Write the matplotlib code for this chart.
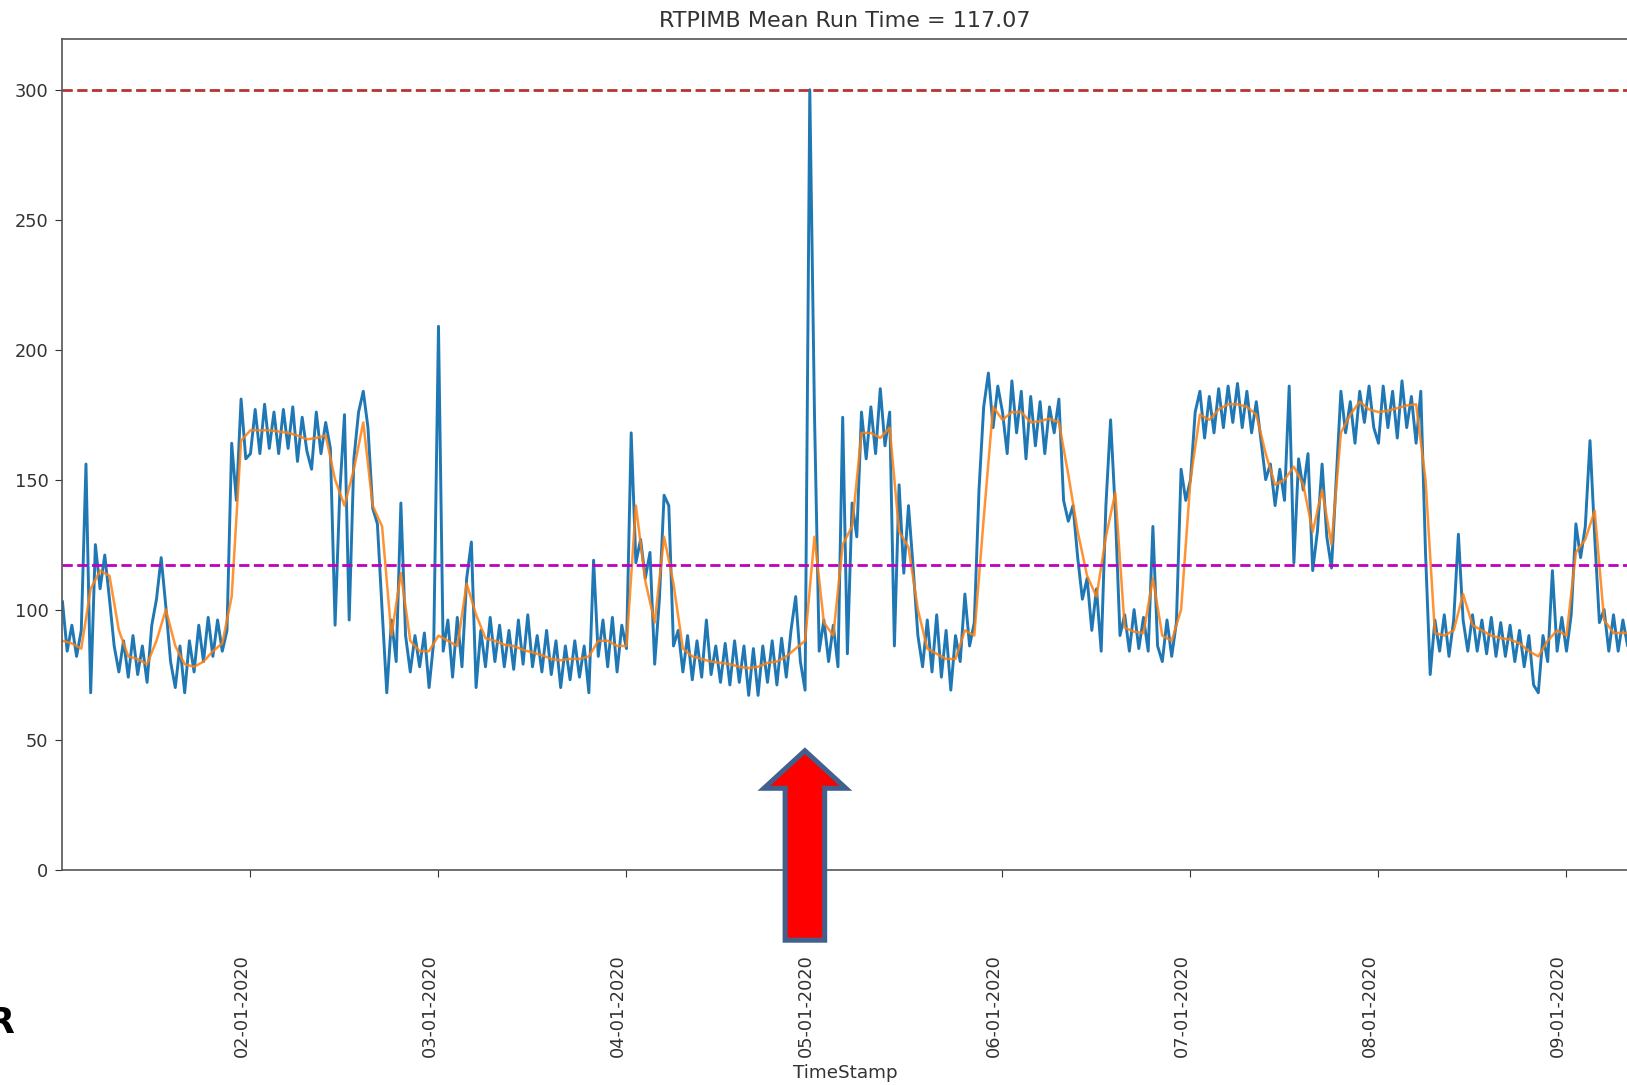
import numpy as np
import matplotlib
matplotlib.use('Agg')
import matplotlib.pyplot as plt
from matplotlib.patches import FancyArrow

plt.rcParams['font.family'] = ['DejaVu Sans']

# run time samples, one every 0.025 month, per month
jan_vals = [103, 84, 94, 82, 92, 156, 68, 125, 108, 121, 104, 86, 76, 88, 74, 90, 75, 86, 72, 94,
            104, 120, 101, 80, 70, 86, 68, 88, 76, 94, 80, 97, 82, 96, 84, 92, 164, 142, 181, 158]
feb_vals = [160, 177, 160, 179, 162, 176, 160, 177, 162, 178, 157, 174, 161, 154, 176, 160, 172, 162, 94, 145,
            175, 96, 158, 176, 184, 170, 139, 133, 100, 68, 96, 80, 141, 90, 76, 90, 78, 91, 70, 88]
mar_vals = [209, 84, 96, 74, 97, 78, 112, 126, 70, 92, 78, 97, 80, 94, 78, 92, 77, 96, 79, 98,
            78, 90, 76, 92, 75, 88, 70, 86, 73, 88, 74, 86, 68, 119, 82, 96, 78, 97, 76, 94]
apr_vals = [85, 168, 118, 127, 112, 122, 79, 104, 144, 140, 86, 92, 76, 90, 73, 88, 74, 96, 75, 86,
            72, 87, 71, 88, 72, 86, 67, 85, 67, 86, 72, 88, 71, 89, 74, 92, 105, 80, 69, 300]
may_vals = [175, 84, 96, 80, 94, 78, 174, 83, 141, 128, 176, 158, 178, 160, 185, 163, 176, 86, 148, 114,
            140, 116, 90, 78, 96, 76, 98, 74, 92, 69, 90, 80, 106, 86, 95, 146, 178, 191, 170, 186]
jun_vals = [176, 160, 188, 168, 184, 158, 182, 163, 180, 160, 178, 168, 181, 142, 134, 140, 120, 104, 112, 92,
            108, 84, 140, 173, 138, 90, 98, 84, 100, 85, 97, 84, 132, 86, 80, 96, 82, 95, 154, 142]
jul_vals = [150, 176, 184, 166, 182, 168, 185, 170, 186, 172, 187, 170, 184, 168, 180, 165, 150, 156, 140, 154,
            142, 186, 118, 158, 146, 160, 115, 130, 156, 128, 116, 150, 184, 168, 180, 164, 184, 172, 186, 170]
aug_vals = [164, 186, 170, 184, 166, 188, 170, 182, 164, 184, 122, 75, 96, 84, 98, 82, 96, 129, 96, 84,
            98, 84, 96, 83, 97, 82, 95, 82, 94, 80, 92, 78, 90, 71, 68, 90, 80, 115, 84, 97]
sep_vals = [84, 98, 133, 120, 132, 165, 128, 95, 100, 84, 98, 84, 96, 86, 92]

# moving average (orange), one value every 0.05 month
jan_avg = [88, 87, 85, 108, 115, 113, 92, 82, 81, 79, 88, 100, 86, 79, 78, 80, 84, 87, 105, 165]
feb_avg = [169, 169, 169, 168.5, 168, 167, 165.5, 166, 167, 150, 140, 154, 172, 140, 132, 90, 114, 88, 84, 84]
mar_avg = [90, 88, 86, 110, 98, 89, 88, 86.5, 86, 84.5, 83.5, 82.5, 81, 80.5, 81, 81, 82, 88, 88, 86]
apr_avg = [86, 140, 111, 95, 128, 110, 85, 82, 81, 80, 79.5, 79, 78, 77.5, 78, 79.5, 80, 82, 85, 88]
may_avg = [128, 95, 90, 125, 132, 168, 168, 166, 170, 130, 124, 100, 85, 83, 81, 81, 92, 90, 135, 178]
jun_avg = [173, 176, 176, 172, 172.5, 173.5, 172, 152, 130, 113, 105, 128, 145, 93, 91.5, 91, 112, 90, 88, 100]
jul_avg = [150, 175, 173, 177, 179, 179, 178, 175, 160, 148, 150, 155, 148, 130, 146, 125, 168, 175, 180, 177]
aug_avg = [176, 176.5, 177.5, 178.5, 179, 150, 91, 90, 92, 106, 94, 92, 90, 89, 88.5, 87, 84, 82, 88, 92]
sep_avg = [90, 122, 127, 138, 96, 91, 91, 91]

month_labels = ['02-01-2020', '03-01-2020', '04-01-2020', '05-01-2020',
                '06-01-2020', '07-01-2020', '08-01-2020', '09-01-2020']
mean_run_time = 117.07
limit_value = 300
title_text = 'RTPIMB Mean Run Time = 117.07'


def stack_months(months, step):
    # x in months since 01-01-2020
    xs, ys = [], []
    for k, vals in enumerate(months):
        xs.extend(k + np.arange(len(vals)) * step)
        ys.extend(vals)
    return np.array(xs), np.array(ys, dtype=float)


raw_x, raw_y = stack_months([jan_vals, feb_vals, mar_vals, apr_vals, may_vals,
                             jun_vals, jul_vals, aug_vals, sep_vals], 0.025)
avg_x, avg_y = stack_months([jan_avg, feb_avg, mar_avg, apr_avg, may_avg,
                             jun_avg, jul_avg, aug_avg, sep_avg], 0.05)

fig = plt.figure(figsize=(16.27, 10.85), dpi=100)
ax = fig.add_axes([0.0384, 0.1986, 0.9622, 0.7654])

ax.plot(raw_x, raw_y, color='#1f77b4', lw=2.1)
ax.plot(avg_x, avg_y, color='#ff7f0e', lw=1.8, alpha=0.85)
ax.axhline(limit_value, color='#b83232', ls='--', lw=2)
ax.axhline(mean_run_time, color='m', ls='--', lw=2)

# big red arrow pointing at the spike
spike_x = raw_x[np.argmax(raw_y)]
arrow = FancyArrow(spike_x - 0.026, -27.2, 0, 72.9, width=0.2106, head_width=0.436,
                   head_length=14.45, length_includes_head=True,
                   facecolor='#ff0000', edgecolor='#41608e', linewidth=3.6,
                   joinstyle='miter', clip_on=False, zorder=10)
ax.add_patch(arrow)

ax.set_xlim(0, 8.327)
ax.set_ylim(0, 319.5)
ax.set_xticks(range(1, 9))
ax.set_xticklabels(month_labels, rotation=90, ha='right')
ax.set_yticks(range(0, 301, 50))
ax.tick_params(axis='x', length=5, pad=56, labelsize=12.8, colors='#333333')
ax.tick_params(axis='y', length=5, pad=5, labelsize=12.8, colors='#333333')

ax.spines['right'].set_visible(False)
for s in ['left', 'top', 'bottom']:
    ax.spines[s].set_color('#555555')
    ax.spines[s].set_linewidth(1.2)

ax.set_title(title_text, fontsize=16, pad=8.5, color='#333333')
ax.set_xlabel('TimeStamp', fontsize=13.2, labelpad=5, color='#333333')

# cut-off letter at the bottom left of the slide
fig.text(14 / 1627, (1085 - 1033) / 1085, 'R', fontsize=25, fontweight='bold',
         ha='right', va='baseline', color='black')

fig.savefig('out.png', dpi=100)
